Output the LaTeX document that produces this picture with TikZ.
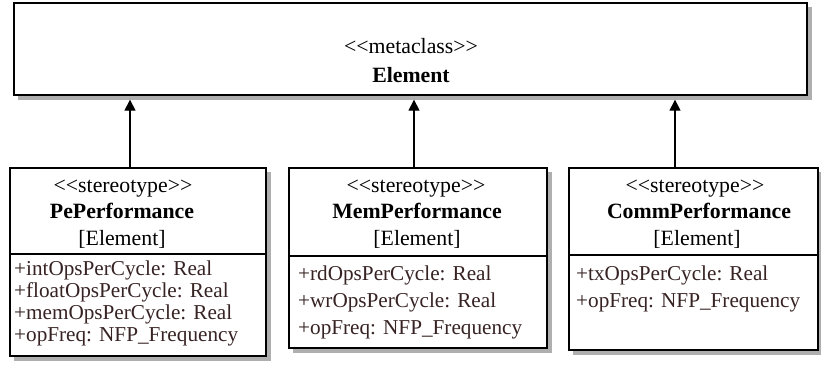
\documentclass[tikz,border=0pt]{standalone}
\usepackage{fontspec}
\setmainfont{Liberation Serif}
\usetikzlibrary{arrows.meta,backgrounds}
\definecolor{attr}{RGB}{55,35,35}
\definecolor{shade}{RGB}{175,175,175}
\begin{document}
\begin{tikzpicture}[x=1pt,y=-1pt,
  box/.style={draw=black, line width=1.3pt, fill=white, rectangle, inner sep=0pt},
  shadowbox/.style={fill=shade},
  txt/.style={anchor=base, inner sep=0pt, font=\fontsize{21.8}{24}\selectfont},
  attrtxt/.style={anchor=base west, inner sep=0pt, font=\fontsize{21.2}{24}\selectfont, text=attr},
  sep/.style={line width=1.3pt},
  arr/.style={line width=1.2pt, -{Triangle[length=11pt,width=11pt]}, shorten >=4pt}]
\useasboundingbox (0,0) rectangle (821,364);

% metaclass
\node[box, minimum width=793pt, minimum height=92pt] (elem) at (410.5,49) {};
\node[txt] (elemS) at (411,53) {<{}<metaclass>{}>};
\node[txt] (elemN) at (411,82) {\textbf{Element}};

% PePerformance
\node[box, minimum width=256pt, minimum height=188pt] (pe) at (138,262) {};
\node[txt] (peS) at (123,192) {<{}<stereotype>{}>};
\node[txt] (peN) at (122,218) {\textbf{PePerformance}};
\node[txt] (peE) at (122,245) {[Element]};
\draw[sep] (pe.west |- 0,254) -- (pe.east |- 0,254);
\node[attrtxt] (pe1) at (14,275) {+intOpsPerCycle: Real};
\node[attrtxt] (pe2) at (14,297) {+floatOpsPerCycle: Real};
\node[attrtxt] (pe3) at (14,319) {+memOpsPerCycle: Real};
\node[attrtxt] (pe4) at (14,341) {+opFreq: NFP\_Frequency};

% MemPerformance
\node[box, minimum width=258pt, minimum height=180pt] (mem) at (418,258) {};
\node[txt] (memS) at (416,192) {<{}<stereotype>{}>};
\node[txt] (memN) at (417,218) {\textbf{MemPerformance}};
\node[txt] (memE) at (417,245) {[Element]};
\draw[sep] (mem.west |- 0,256) -- (mem.east |- 0,256);
\node[attrtxt] (mem1) at (298,280) {+rdOpsPerCycle: Real};
\node[attrtxt] (mem2) at (298,307) {+wrOpsPerCycle: Real};
\node[attrtxt] (mem3) at (298,334) {+opFreq: NFP\_Frequency};

% CommPerformance
\node[box, minimum width=249pt, minimum height=182pt] (comm) at (693.5,259) {};
\node[txt] (commS) at (695,192) {<{}<stereotype>{}>};
\node[txt] (commN) at (699,218) {\textbf{CommPerformance}};
\node[txt] (commE) at (697,245) {[Element]};
\draw[sep] (comm.west |- 0,255) -- (comm.east |- 0,255);
\node[attrtxt] (comm1) at (576,280) {+txOpsPerCycle: Real};
\node[attrtxt] (comm2) at (576,307) {+opFreq: NFP\_Frequency};

% shadows
\begin{scope}[on background layer]
  \foreach \n in {elem,pe,mem,comm}
    \fill[shadowbox] ([shift={(4.5,4.5)}]\n.north west) rectangle ([shift={(4.5,4.5)}]\n.south east);
\end{scope}

% generalizations
\coordinate (a1) at (130,0);
\coordinate (a2) at (414,0);
\coordinate (a3) at (675,0);
\draw[arr] (a1 |- pe.north) -- (a1 |- elem.south);
\draw[arr] (a2 |- mem.north) -- (a2 |- elem.south);
\draw[arr] (a3 |- comm.north) -- (a3 |- elem.south);
\end{tikzpicture}
\end{document}
